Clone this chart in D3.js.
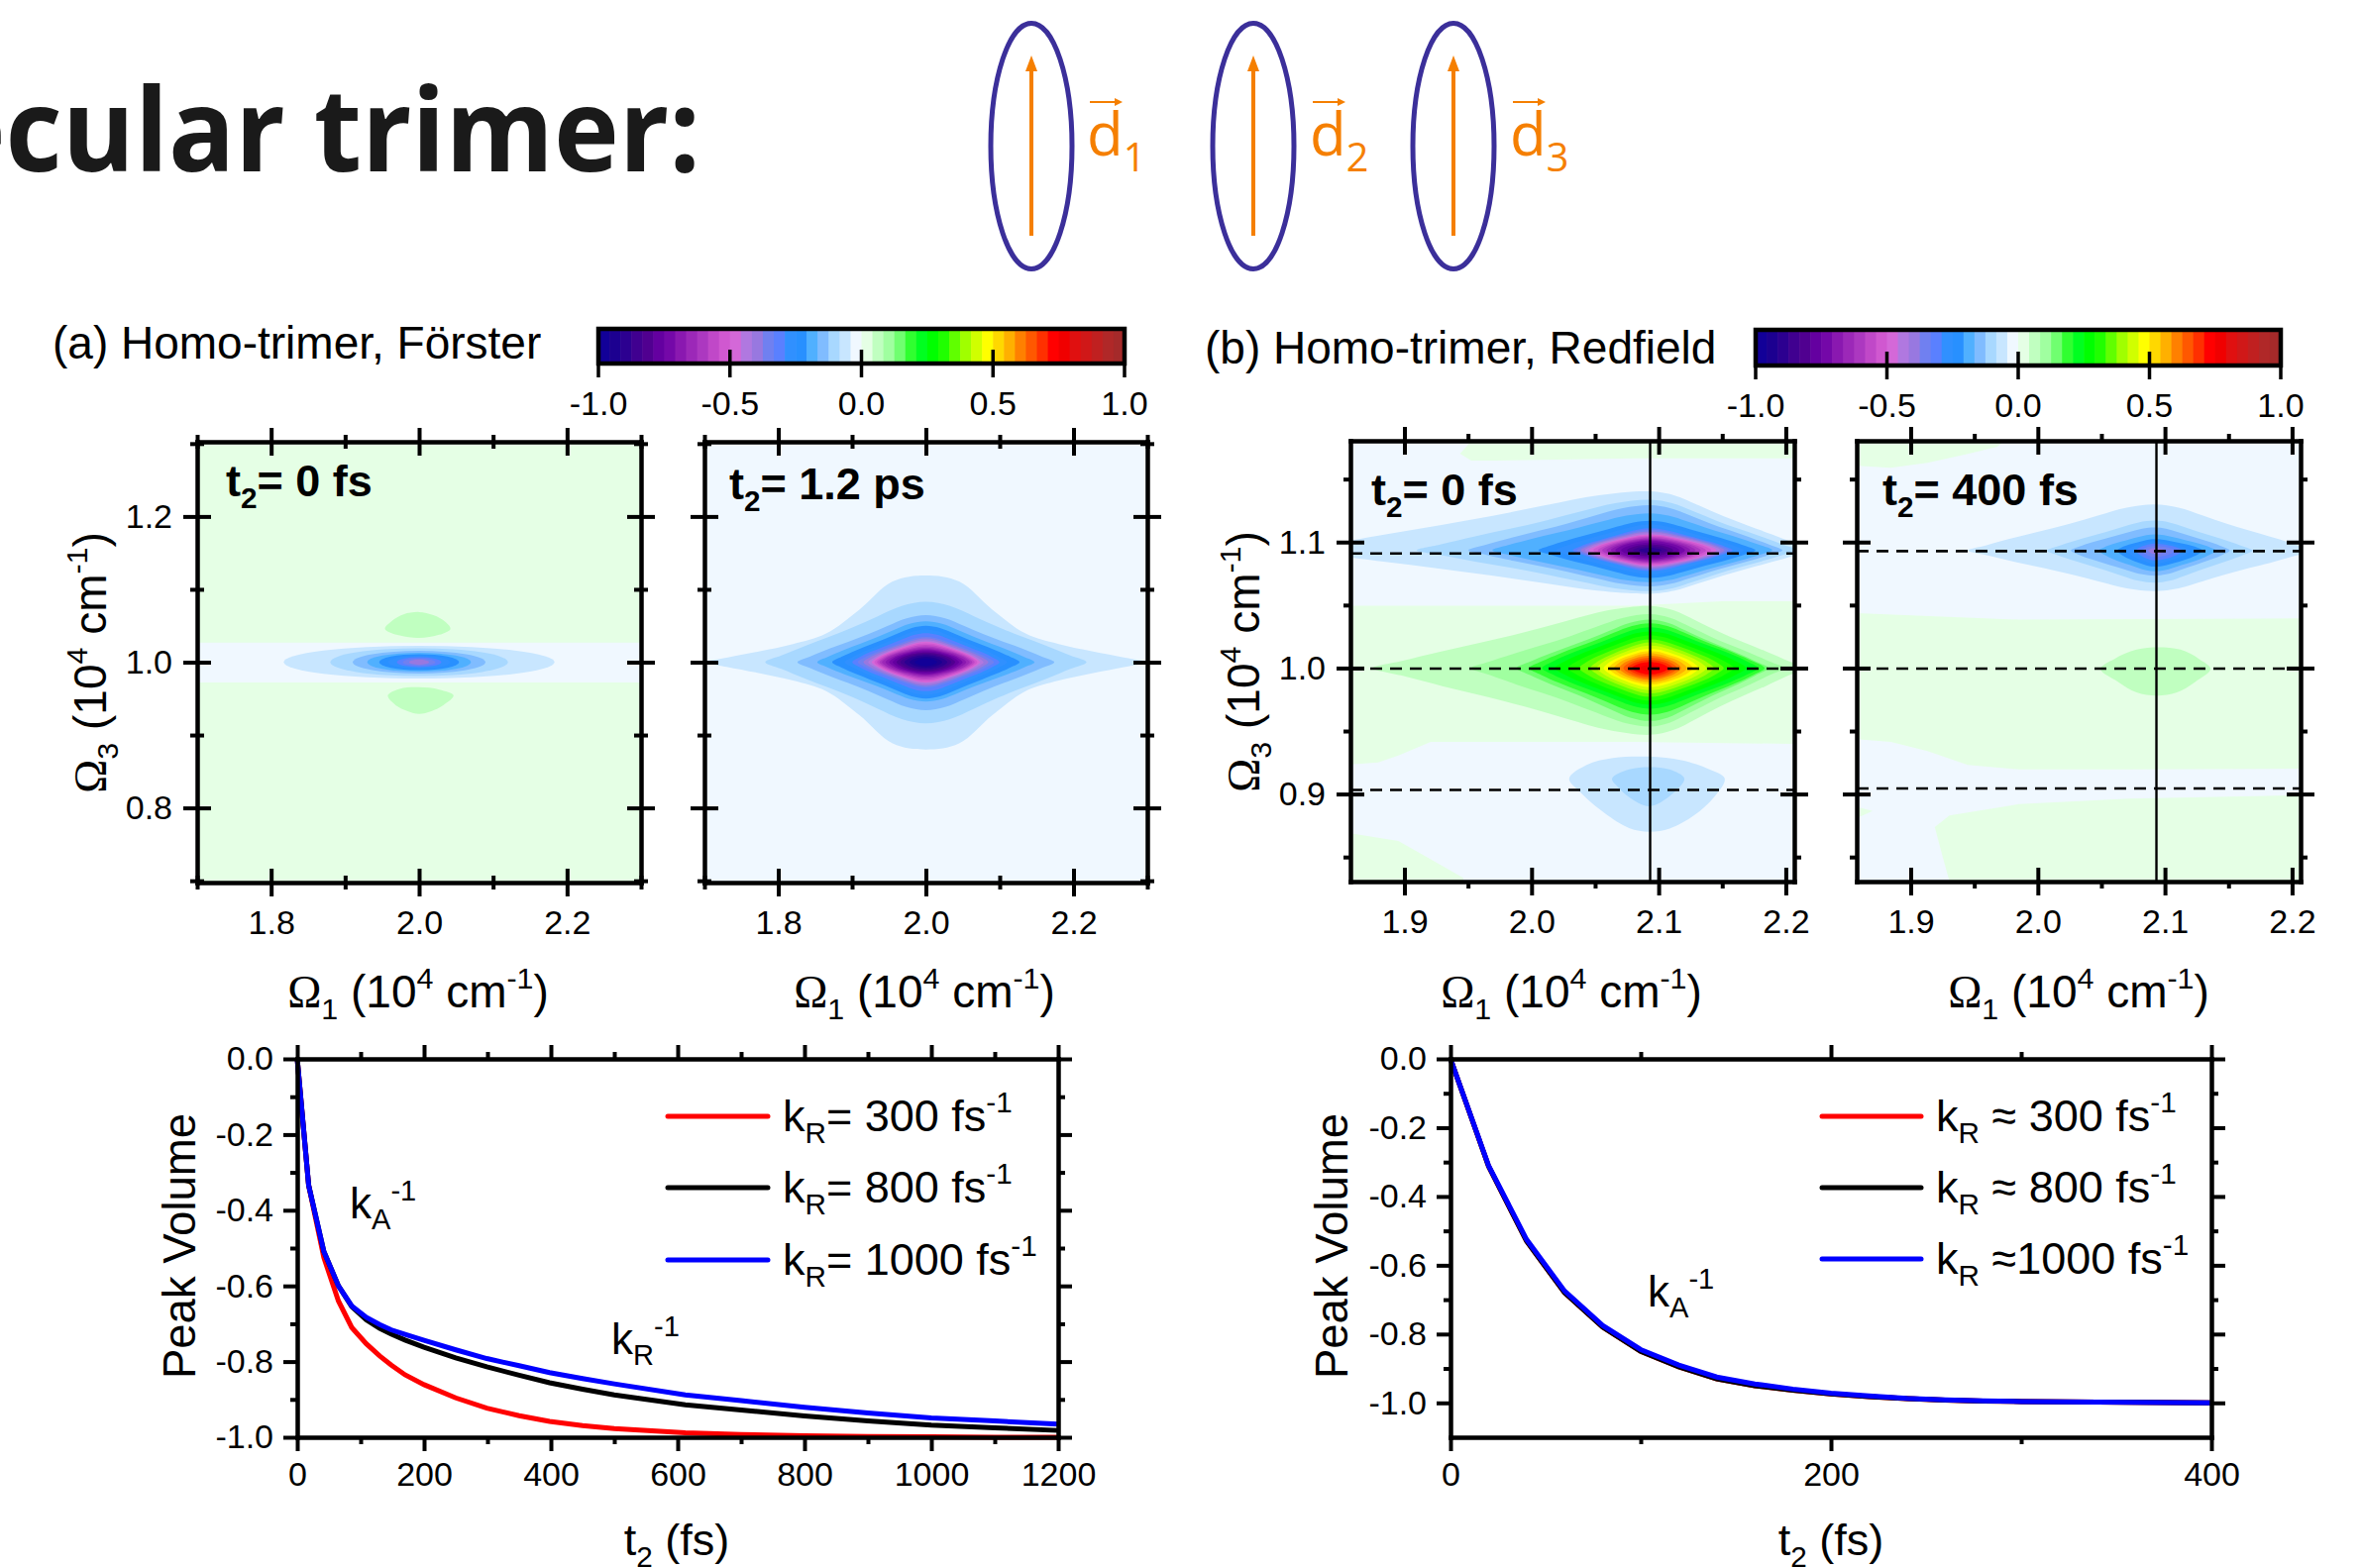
<!DOCTYPE html>
<html>
<head>
<meta charset="utf-8">
<script src="https://cdn.jsdelivr.net/npm/d3@7"></script>
<style>
html,body{margin:0;padding:0;background:#fff;overflow:hidden}
svg{display:block}
text{font-family:"Liberation Sans",Arial,sans-serif;fill:#000}
</style>
</head>
<body>
<div class="fig"></div>
<script>
// colour steps of the bar, 24 each side of zero, innermost first
var negColors = ["#f0f8ff","#c8e6ff","#a8d8ff","#80bcff","#50b0ff","#2890ff","#3090ff","#5a80ff","#7080f0","#9878e0","#b078e0","#d468d8","#d058d0","#c048c8","#ac38c0","#9c28b8","#8a18b0","#7408a8","#6400a0","#500090","#400090","#2c0090","#1c0090","#120098"]
var posColors = ["#e5ffe5","#c0ffc0","#a0ffa0","#70ff70","#30ff30","#00ff20","#00ff00","#20ff00","#60ff00","#a0ff00","#d0ff00","#ffff00","#ffd800","#ffb000","#ff8000","#ff5800","#ff3000","#ff0000","#f00000","#e01010","#d01818","#c02020","#b02828","#a52a2a"]
var barTicks = [-1,-0.5,0,0.5,1]

var a1Center = [2.0,1.0]
var a1BandRx = [.183,.12,.0897,.07,.054,.042,.03,.022,.0136]
var a1BandRy = [.0225,.019,.0155,.013,.0109,.0088,.0068,.005,.0036]

// peak cross sections: offset from peak centre and |value|
var a2Center = [2.0,1.0]
var a2Off1 = [-.3,-.218,-.174,-.147,-.127,-.11,-.10,-.09,-.08,-.072,-.06,-.045,-.03,-.015,0,.015,.03,.045,.06,.072,.08,.09,.10,.11,.127,.147,.174,.218,.3]
var a2Val1 = [.0417,.083,.125,.167,.208,.25,.29,.345,.40,.47,.62,.75,.87,.96,1,.96,.87,.75,.62,.47,.40,.345,.29,.25,.208,.167,.125,.083,.0417]
var a2Off3 = [-.12,-.084,-.066,-.054,-.05,-.045,-.04,-.035,-.03,-.026,-.02,-.015,-.01,-.005,0,.005,.01,.015,.02,.026,.03,.035,.04,.045,.05,.056,.0645,.083,.119]
var a2Val3 = [.0417,.083,.125,.167,.208,.25,.29,.33,.42,.5,.62,.75,.87,.96,1,.96,.87,.75,.62,.5,.42,.33,.29,.25,.208,.167,.125,.083,.0417]

var b1TopCenter = [2.0933,1.0935]
var b1TopOff1 = [-.236,-.184,-.143,-.124,-.088,-.061,-.048,-.0273,-.009,0,.009,.0273,.052,.065,.083,.096,.104,.114]
var b1TopVal1 = [.06,.083,.125,.167,.208,.29,.46,.71,.875,.9,.875,.71,.46,.29,.208,.167,.125,.09]
var b1TopOff3 = [-.0345,-.0325,-.0286,-.0254,-.022,-.0165,-.0126,-.0071,-.002,0,.002,.0073,.0126,.0175,.0235,.0292,.0358,.0402,.0468]
var b1TopVal3 = [.0417,.083,.125,.167,.208,.29,.46,.71,.875,.9,.875,.71,.46,.29,.208,.167,.125,.083,.0417]

var b1MidCenter = [2.0933,1.0]
var b1MidOff1 = [-.236,-.218,-.141,-.105,-.095,-.0845,-.065,-.047,-.0364,-.0247,-.0143,0,.0143,.0247,.038,.05,.066,.0845,.09,.0927,.105,.114]
var b1MidVal1 = [.03,.0417,.083,.125,.167,.21,.29,.375,.46,.58,.71,.8,.71,.58,.46,.375,.29,.21,.167,.125,.083,.06]
var b1MidOff3 = [-.053,-.0464,-.042,-.037,-.032,-.023,-.0149,-.0097,-.005,0,.0047,.01,.0152,.023,.0322,.0355,.0384,.0428,.0493]
var b1MidVal3 = [.0417,.083,.125,.167,.21,.33,.46,.58,.71,.8,.71,.58,.46,.33,.21,.167,.125,.083,.0417]

var b2TopCenter = [2.092,1.0933]
var b2TopOff1 = [-.236,-.147,-.085,-.066,-.044,-.03,-.015,0,.013,.028,.048,.059,.077,.115]
var b2TopVal1 = [.01,.0417,.083,.125,.167,.208,.29,.42,.35,.25,.167,.125,.083,.05]
var b2TopOff3 = [-.0322,-.0256,-.02,-.0165,-.0128,0,.009,.0128,.0183,.0238,.0366]
var b2TopVal3 = [.0417,.083,.125,.167,.208,.42,.208,.167,.125,.083,.0417]

// band outlines: height as a share of the half height, along the half width
var outlineU = [0,.15,.3,.45,.6,.75,.9,1]
var bellShape = [1,.93,.6,.32,.2,.12,.05,0]
var diamondShape = [1,.93,.76,.58,.42,.27,.11,0]
var ovalShape = [1,.985,.93,.84,.72,.56,.32,0]
var shapeLevels = [.04,.08,.8]  // relative level each shape above belongs to

// flat zero-level regions and weak lobes, outlines in (Omega1, Omega3)
var a1BlueBand = [[1.69,1.027],[2.31,1.027],[2.31,.972],[1.69,.972]]
var a1LobeUp = [[1.9539,1.0457],[1.963,1.0565],[1.979,1.0656],[2.0,1.0688],[2.0193,1.0645],[2.0354,1.0554],[2.0423,1.0457],[2.0273,1.0376],[2.0,1.0333],[1.9738,1.0366]]
var a1LobeDown = [[1.9577,.9543],[1.9738,.9634],[2.0,.9656],[2.0273,.9624],[2.0466,.9543],[2.0327,.9409],[2.0166,.9328],[2.0,.929],[1.9845,.9328],[1.9684,.9409]]

var b1GreenTop = [[1.9437,1.1702],[1.9494,1.1764],[1.959,1.19],[2.22,1.19],[2.22,1.1665],[2.08,1.1665],[1.9717,1.1647],[1.9526,1.1647]]
var b1GreenMid = [[1.85,1.0494],[2.08,1.0494],[2.15,1.053],[2.22,1.053],[2.22,.9396],[2.08,.9414],[1.9526,.9414],[1.9207,.9414],[1.8952,.9305],[1.8793,.925],[1.85,.923]]
var b1GreenLow = [[1.85,.87],[1.8952,.8627],[1.9207,.8481],[1.9463,.8335],[1.9463,.82],[1.85,.82]]
var b1LobeOuter = [[2.0296,.9122],[2.0433,.9231],[2.064,.9286],[2.0927,.9297],[2.118,.9268],[2.14,.9195],[2.152,.9122],[2.1436,.8975],[2.1277,.8829],[2.1086,.8726],[2.0927,.8701],[2.0767,.873],[2.0576,.8847],[2.0385,.9012]]
var b1LobeInner = [[2.0633,.9122],[2.0767,.9195],[2.0927,.9214],[2.1086,.9195],[2.1202,.9122],[2.11,.8994],[2.0927,.8902],[2.0767,.8975],[2.0687,.9048]]

var b2GreenTop = [[1.85,1.161],[1.8843,1.159],[1.9132,1.163],[1.9449,1.17],[1.968,1.1757],[1.9853,1.19],[1.85,1.19]]
var b2GreenMid = [[1.85,1.0439],[1.9853,1.0384],[2.22,1.0395],[2.22,.9202],[2.0718,.9195],[1.9853,.9195],[1.9449,.9231],[1.9132,.9341],[1.8843,.9414],[1.85,.944]]
var b2GreenLow = [[1.9189,.8737],[1.9305,.8829],[1.9853,.892],[2.0718,.8964],[2.22,.8994],[2.22,.82],[1.9334,.82],[1.9247,.8518]]
var b2GreenDot = [[1.85,.892],[1.87,.8865],[1.85,.8774]]
var b2Lobe = [[2.0493,.9993],[2.0603,1.0073],[2.0776,1.0146],[2.0949,1.0165],[2.1122,1.0146],[2.1267,1.0073],[2.1359,.9993],[2.1238,.989],[2.1094,.9806],[2.0935,.978],[2.0776,.9806],[2.0632,.989]]

var b1Dashes = [1.091,.9995,.9032]
var b2Dashes = [1.0928,.9995,.9044]
var bVertical = 2.0933

// peak volume traces
var leftTimes = [0,18,42,65,86,109,130,148,170,200,250,299,350,398,450,500,612,700,800,900,1000,1100,1200]
var leftRed = [0,-.334,-.525,-.64,-.71,-.753,-.785,-.809,-.835,-.861,-.896,-.923,-.943,-.958,-.969,-.977,-.988,-.993,-.996,-.998,-.999,-1,-1]
var leftBlack = [0,-.334,-.509,-.60,-.655,-.69,-.712,-.727,-.743,-.762,-.79,-.814,-.836,-.856,-.873,-.888,-.914,-.928,-.944,-.957,-.968,-.975,-.982]
var leftBlue = [0,-.334,-.509,-.60,-.653,-.683,-.702,-.716,-.728,-.744,-.769,-.792,-.811,-.829,-.845,-.859,-.888,-.903,-.921,-.936,-.949,-.957,-.965]
var rightTimes = [0,20,40,60,80,100,120,140,160,180,200,220,240,260,280,300,340,400]
var rightRed = [0,-.312,-.53,-.68,-.78,-.85,-.895,-.93,-.95,-.963,-.974,-.982,-.988,-.992,-.995,-.996,-.998,-1]
var rightBlack = [0,-.312,-.53,-.68,-.78,-.85,-.895,-.93,-.95,-.963,-.974,-.982,-.988,-.992,-.995,-.996,-.998,-1]
var rightBlue = [0,-.31,-.525,-.675,-.775,-.845,-.89,-.925,-.945,-.96,-.972,-.98,-.987,-.991,-.994,-.996,-.998,-1]

var legendColors = ["#ff0000","#000000","#0000ff"]
var leftLegend = ["= 300 fs","= 800 fs","= 1000 fs"]
var rightLegend = [" \u2248 300 fs"," \u2248 800 fs"," \u22481000 fs"]

var svg = d3.select(".fig").append("svg").attr("width",2384).attr("height",1583)
var defs = svg.append("defs")
var clipId = 0

function one(d) { return d.toFixed(1) }  // d3.format would give a long minus

// text with sub/superscripts, parts are [string, "sub"|"sup"|null, family]
function rich(g, x, y, size, parts, rotate, anchor) {
  var t = g.append("text").attr("font-size",size).attr("text-anchor",anchor||"start")
  if (rotate) t.attr("transform","translate("+x+","+y+") rotate(-90)")
  else t.attr("x",x).attr("y",y)
  var shift = 0
  parts.forEach(function(p) {
    var s = p[1]=="sub" ? 0.26*size : p[1]=="sup" ? -0.42*size : 0
    var ts = t.append("tspan").text(p[0]).attr("dy",s-shift)
      .attr("font-size", p[1] ? size*0.66 : size)
    if (p[2]) ts.style("font-family",p[2])
    shift = s
  })
  return t
}

// ticks go both ways through the frame
function marks(g, orient, scale, majors, minors, o) {
  var vert = orient=="left" || orient=="right"
  var sign = (orient=="left" || orient=="top") ? -1 : 1
  var ax = (orient=="bottom" ? d3.axisBottom : orient=="top" ? d3.axisTop : orient=="left" ? d3.axisLeft : d3.axisRight)(scale)
    .tickValues(majors.concat(minors)).tickSizeOuter(0).tickSizeInner(0)
    .tickPadding(o.pad||0)
    .tickFormat(function(d) { return (o.labels && majors.indexOf(d)>=0) ? o.fmt(d) : "" })
  var a = g.append("g").attr("transform",o.at).call(ax)
  a.attr("font-size",34).style("font-family",null).attr("font-family",null)
  a.select(".domain").attr("stroke","#000").attr("stroke-width",o.sw||4.5).attr("stroke-linecap","square")
  a.selectAll(".tick text").style("fill","#000")
    .filter(function() { return d3.select(this).text()=="" }).remove()
  a.selectAll(".tick line").each(function(d) {
    var isMajor = majors.indexOf(d)>=0
    var inn = isMajor ? o.majorIn : o.minorIn, out = isMajor ? o.majorOut : o.minorOut
    d3.select(this).attr("stroke","#000").attr("stroke-width",o.tw||4)
      .attr(vert?"x1":"y1",-sign*inn).attr(vert?"x2":"y2",sign*out)
  })
  return a
}

// half width at a given level, taken from one side of a cross section
function sideScale(off, val, side) {
  var idx = d3.range(off.length).filter(function(i){return side<0 ? off[i]<=0 : off[i]>=0})
  idx.sort(function(a,b){return val[a]-val[b]})
  return d3.scaleLinear().domain(idx.map(function(i){return val[i]})).range(idx.map(function(i){return Math.abs(off[i])}))
}

// one closed band per colour level, widths from the cross sections
function peakBands(g, x, y, center, off1, val1, off3, val3, colors, shapes) {
  var amp = d3.max(val1)
  var left = sideScale(off1,val1,-1), right = sideScale(off1,val1,1)
  var down = sideScale(off3,val3,-1), up = sideScale(off3,val3,1)
  var shapeAt = outlineU.map(function(u,i) {
    return d3.scaleLinear().domain(shapeLevels).range(shapes.map(function(s){return s[i]})).clamp(true)
  })
  var levels = d3.range(1,24).filter(function(k){return k/24<amp})
  var line = d3.line().x(function(d){return x(center[0]+d[0])}).y(function(d){return y(center[1]+d[1])})
    .curve(d3.curveCatmullRomClosed.alpha(.5))
  g.append("g").selectAll("path").data(levels).enter().append("path")
    .attr("fill",function(k){return colors[k]})
    .attr("d",function(k) {
      var v = k/24, l = left(v), r = right(v), t = up(v), b = down(v), pts = []
      var h = shapeAt.map(function(s){return s(v/amp)})
      var n = outlineU.length
      d3.range(n).forEach(function(i){ pts.push([r*outlineU[i],t*h[i]]) })
      d3.range(n-2,-1,-1).forEach(function(i){ pts.push([r*outlineU[i],-b*h[i]]) })
      d3.range(1,n).forEach(function(i){ pts.push([-l*outlineU[i],-b*h[i]]) })
      d3.range(n-2,0,-1).forEach(function(i){ pts.push([-l*outlineU[i],t*h[i]]) })
      return line(pts)
    })
}

function region(g, x, y, pts, color, smooth) {
  var line = d3.line().x(function(d){return x(d[0])}).y(function(d){return y(d[1])})
    .curve(smooth ? d3.curveCatmullRomClosed : d3.curveLinearClosed)
  g.append("path").attr("d",line(pts)).attr("fill",color)
}

function heatPanel(o) {
  var x = d3.scaleLinear().domain(o.xDomain).range([o.left,o.right])
  var y = d3.scaleLinear().domain(o.yDomain).range([o.bottom,o.top])
  var id = "c"+(clipId++)
  defs.append("clipPath").attr("id",id).append("rect").attr("x",o.left).attr("y",o.top)
    .attr("width",o.right-o.left).attr("height",o.bottom-o.top)
  var g = svg.append("g")
  var inner = g.append("g").attr("clip-path","url(#"+id+")")
  inner.append("rect").attr("x",o.left).attr("y",o.top).attr("width",o.right-o.left).attr("height",o.bottom-o.top).attr("fill",o.base)
  o.draw(inner,x,y)
  if (o.dashes) inner.selectAll("line.dash").data(o.dashes).enter().append("line")
    .attr("x1",o.left).attr("x2",o.right).attr("y1",function(d){return y(d)}).attr("y2",function(d){return y(d)})
    .attr("stroke","#000").attr("stroke-width",2.6).attr("stroke-dasharray","12,8")
  if (o.vline) inner.append("line").attr("x1",x(o.vline)).attr("x2",x(o.vline)).attr("y1",o.top).attr("y2",o.bottom)
    .attr("stroke","#000").attr("stroke-width",2.4)
  var ox = {majorIn:14,majorOut:14,minorIn:o.minorIn,minorOut:7,fmt:one}
  marks(g,"top",x,o.xMajor,o.xMinor,Object.assign({at:"translate(0,"+o.top+")"},ox))
  marks(g,"bottom",x,o.xMajor,o.xMinor,Object.assign({at:"translate(0,"+o.bottom+")",labels:true,pad:28},ox))
  marks(g,"left",y,o.yMajor,o.yMinor,Object.assign({at:"translate("+o.left+",0)",labels:o.yLabels,pad:25},ox))
  marks(g,"right",y,o.yMajor,o.yMinor,Object.assign({at:"translate("+o.right+",0)"},ox))
  rich(g,o.tx,o.ty,45,[["t",null],["2","sub"],["= "+o.label,null]]).attr("font-weight","bold")
}

function colorBar(left, right, top, bottom, labelY) {
  var x = d3.scaleLinear().domain([-1,1]).range([left,right])
  var g = svg.append("g")
  var steps = negColors.slice().reverse().map(function(c,i){return {c:c,v:-1+i/24}})
    .concat(posColors.map(function(c,i){return {c:c,v:i/24}}))
  g.selectAll("rect").data(steps).enter().append("rect")
    .attr("x",function(d){return x(d.v)}).attr("y",top)
    .attr("width",function(d){return x(d.v+1/24)-x(d.v)+.6}).attr("height",bottom-top)
    .attr("fill",function(d){return d.c})
  g.append("rect").attr("x",left).attr("y",top).attr("width",right-left).attr("height",bottom-top)
    .attr("fill","none").attr("stroke","#000").attr("stroke-width",4.5)
  g.selectAll("line").data(barTicks).enter().append("line")
    .attr("x1",function(d){return x(d)}).attr("x2",function(d){return x(d)})
    .attr("y1",function(d){return Math.abs(d)==1 ? bottom : bottom-14}).attr("y2",bottom+14)
    .attr("stroke","#000").attr("stroke-width",3.5)
  g.selectAll("text").data(barTicks).enter().append("text")
    .attr("x",function(d){return x(d)}).attr("y",labelY).attr("text-anchor","middle").attr("font-size",34)
    .text(one)
}

function decayPanel(o) {
  var x = d3.scaleLinear().domain(o.xDomain).range([o.left,o.right])
  var y = d3.scaleLinear().domain(o.yDomain).range([o.bottom,o.top])
  var g = svg.append("g")
  var line = d3.line().x(function(d){return x(d[0])}).y(function(d){return y(d[1])})
  o.series.forEach(function(s,i) {
    g.append("path").attr("d",line(o.times.map(function(t,j){return [t,s[j]]})))
      .attr("fill","none").attr("stroke",legendColors[i]).attr("stroke-width",5)
  })
  var ox = {majorIn:0,majorOut:14,minorIn:0,minorOut:7}
  marks(g,"top",x,o.xMajor,o.xMinor,Object.assign({at:"translate(0,"+o.top+")"},ox))
  marks(g,"bottom",x,o.xMajor,o.xMinor,Object.assign({at:"translate(0,"+o.bottom+")",labels:true,pad:25,fmt:d3.format("d")},ox))
  marks(g,"left",y,o.yMajor,o.yMinor,Object.assign({at:"translate("+o.left+",0)",labels:true,pad:24,fmt:one},ox))
  marks(g,"right",y,o.yMajor,o.yMinor,Object.assign({at:"translate("+o.right+",0)"},ox))
  o.legend.forEach(function(txt,i) {
    var ly = o.legendY[i]
    g.append("line").attr("x1",o.legX[0]).attr("x2",o.legX[1]).attr("y1",ly).attr("y2",ly)
      .attr("stroke",legendColors[i]).attr("stroke-width",5).attr("stroke-linecap","round")
    rich(g,o.legX[2],ly+15,45,[["k",null],["R","sub"],[txt,null],["-1","sup"]])
  })
  rich(g,o.ylabelX,1258,45.5,[["Peak Volume",null]],true,"middle")
  rich(g,o.xlabelX,1570,45,[["t",null],["2","sub"],[" (fs)",null]],false,"middle")
}

function omegaLabel(n) {
  return [["\u03a9","","Liberation Serif"],[n,"sub"],[" (10",null],["4","sup"],[" cm",null],["-1","sup"],[")",null]]
}

// title and the three dipoles
svg.append("text").attr("transform","translate(707,173) scale(.96,1)").attr("text-anchor","end").attr("font-size",116)
  .attr("font-weight",700).style("font-family","'Open Sans'").style("fill","#1a1a1a").text("ecular trimer:")
var dipoles = [{cx:1041,tx:1097,n:"1"},{cx:1265,tx:1322,n:"2"},{cx:1467,tx:1524,n:"3"}]
dipoles.forEach(function(d) {
  svg.append("ellipse").attr("cx",d.cx).attr("cy",147.5).attr("rx",41).attr("ry",124)
    .attr("fill","none").attr("stroke","#3b2f9a").attr("stroke-width",5)
  svg.append("line").attr("x1",d.cx).attr("x2",d.cx).attr("y1",238).attr("y2",68)
    .attr("stroke","#f57f00").attr("stroke-width",4)
  svg.append("path").attr("d","M"+d.cx+",56 L"+(d.cx-6)+",72 L"+(d.cx+6)+",72 Z").attr("fill","#f57f00")
  svg.append("line").attr("x1",d.tx+3).attr("x2",d.tx+30).attr("y1",103).attr("y2",103)
    .attr("stroke","#f57f00").attr("stroke-width",2)
  svg.append("path").attr("d","M"+(d.tx+36)+",103 L"+(d.tx+28)+",99 L"+(d.tx+28)+",107 Z").attr("fill","#f57f00")
  var t = rich(svg,d.tx,157,60,[["d",null],[d.n,"sub"]])
  t.style("font-family","'Open Sans'").selectAll("tspan").style("fill","#f57f00")
})

rich(svg,53,362,46,[["(a) Homo-trimer, F\u00f6rster",null]])
rich(svg,1216,367,46,[["(b) Homo-trimer, Redfield",null]])
colorBar(604,1135,332,367,419)
colorBar(1772,2302,333,369,421)

heatPanel({left:199,right:647,top:446,bottom:891,xDomain:[1.7,2.3],yDomain:[.6975,1.3025],base:posColors[0],minorIn:7,
  xMajor:[1.8,2.0,2.2],xMinor:[1.7,1.9,2.1,2.3],yMajor:[.8,1.0,1.2],yMinor:[.7,.9,1.1,1.3],yLabels:true,
  tx:228,ty:501,label:"0 fs",
  draw:function(g,x,y) {
    region(g,x,y,a1BlueBand,negColors[0])
    region(g,x,y,a1LobeUp,posColors[1],true)
    region(g,x,y,a1LobeDown,posColors[1],true)
    g.append("g").selectAll("ellipse").data(a1BandRx).enter().append("ellipse")
      .attr("cx",x(a1Center[0])).attr("cy",y(a1Center[1]))
      .attr("rx",function(d){return x(a1Center[0]+d)-x(a1Center[0])})
      .attr("ry",function(d,i){return y(a1Center[1])-y(a1Center[1]+a1BandRy[i])})
      .attr("fill",function(d,i){return negColors[i+1]})
  }})
heatPanel({left:711,right:1158,top:446,bottom:891,xDomain:[1.7,2.3],yDomain:[.6975,1.3025],base:negColors[0],minorIn:7,
  xMajor:[1.8,2.0,2.2],xMinor:[1.7,1.9,2.1,2.3],yMajor:[.8,1.0,1.2],yMinor:[.7,.9,1.1,1.3],yLabels:false,
  tx:736,ty:504,label:"1.2 ps",
  draw:function(g,x,y) {
    peakBands(g,x,y,a2Center,a2Off1,a2Val1,a2Off3,a2Val3,negColors,[bellShape,diamondShape,ovalShape])
  }})
heatPanel({left:1363,right:1811,top:445,bottom:890,xDomain:[1.8575,2.2067],yDomain:[.8305,1.1804],base:negColors[0],minorIn:0,
  xMajor:[1.9,2.0,2.1,2.2],xMinor:[1.95,2.05,2.15],yMajor:[.9,1.0,1.1],yMinor:[.85,.95,1.05,1.15],yLabels:true,
  tx:1384,ty:510,label:"0 fs",dashes:b1Dashes,vline:bVertical,
  draw:function(g,x,y) {
    region(g,x,y,b1GreenTop,posColors[0])
    region(g,x,y,b1GreenMid,posColors[0])
    region(g,x,y,b1GreenLow,posColors[0])
    region(g,x,y,b1LobeOuter,negColors[1],true)
    region(g,x,y,b1LobeInner,negColors[2],true)
    peakBands(g,x,y,b1TopCenter,b1TopOff1,b1TopVal1,b1TopOff3,b1TopVal3,negColors,[diamondShape,diamondShape,ovalShape])
    peakBands(g,x,y,b1MidCenter,b1MidOff1,b1MidVal1,b1MidOff3,b1MidVal3,posColors,[diamondShape,diamondShape,ovalShape])
  }})
heatPanel({left:1874,right:2322,top:445,bottom:890,xDomain:[1.8575,2.2067],yDomain:[.8305,1.1804],base:negColors[0],minorIn:0,
  xMajor:[1.9,2.0,2.1,2.2],xMinor:[1.95,2.05,2.15],yMajor:[.9,1.0,1.1],yMinor:[.85,.95,1.05,1.15],yLabels:false,
  tx:1900,ty:510,label:"400 fs",dashes:b2Dashes,vline:bVertical,
  draw:function(g,x,y) {
    region(g,x,y,b2GreenTop,posColors[0])
    region(g,x,y,b2GreenMid,posColors[0])
    region(g,x,y,b2GreenLow,posColors[0])
    region(g,x,y,b2GreenDot,posColors[0])
    region(g,x,y,b2Lobe,posColors[1],true)
    peakBands(g,x,y,b2TopCenter,b2TopOff1,b2TopVal1,b2TopOff3,b2TopVal3,negColors,[diamondShape,diamondShape,ovalShape])
  }})

rich(svg,422,1017,46,omegaLabel("1"),false,"middle")
rich(svg,933,1017,46,omegaLabel("1"),false,"middle")
rich(svg,1586,1017,46,omegaLabel("1"),false,"middle")
rich(svg,2098,1017,46,omegaLabel("1"),false,"middle")
rich(svg,107,669,46,omegaLabel("3"),true,"middle")
rich(svg,1271,668,46,omegaLabel("3"),true,"middle")

decayPanel({left:300,right:1068,top:1069,bottom:1451,xDomain:[0,1200],yDomain:[-1,0],
  xMajor:[0,200,400,600,800,1000,1200],xMinor:[100,300,500,700,900,1100],
  yMajor:[-1,-.8,-.6,-.4,-.2,0],yMinor:[-.9,-.7,-.5,-.3,-.1],
  times:leftTimes,series:[leftRed,leftBlack,leftBlue],legend:leftLegend,
  legendY:[1127,1199,1272],legX:[674,775,790],ylabelX:197,xlabelX:683})
decayPanel({left:1464,right:2232,top:1069,bottom:1451,xDomain:[0,400],yDomain:[-1.1,0],
  xMajor:[0,200,400],xMinor:[100,300],
  yMajor:[-1,-.8,-.6,-.4,-.2,0],yMinor:[-.9,-.7,-.5,-.3,-.1],
  times:rightTimes,series:[rightRed,rightBlack,rightBlue],legend:rightLegend,
  legendY:[1127,1199,1271],legX:[1839,1939,1954],ylabelX:1360,xlabelX:1848})

rich(svg,353,1230,44,[["k",null],["A","sub"],["-1","sup"]])
rich(svg,617,1367,44,[["k",null],["R","sub"],["-1","sup"]])
rich(svg,1663,1319,44,[["k",null],["A","sub"],["-1","sup"]])
</script>
</body>
</html>
